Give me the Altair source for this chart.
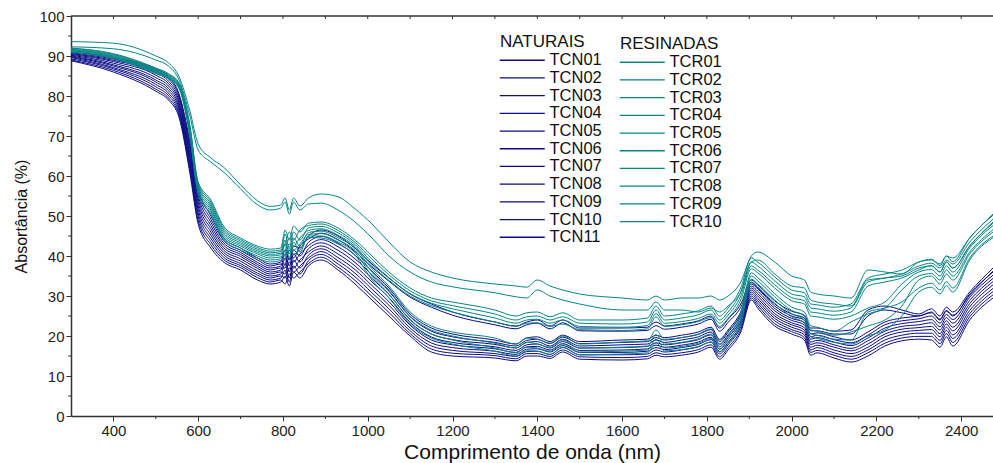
import altair as alt
import pandas as pd

# wavelength grid (nm)
wavelength = [300, 400, 500, 530, 555, 580, 600, 630, 660, 700,
              740, 770, 795, 805, 815, 825, 840, 860, 890, 930,
              970, 1010, 1050, 1100, 1150, 1200, 1300, 1350, 1375, 1400,
              1430, 1460, 1500, 1600, 1660, 1680, 1700, 1740, 1780, 1810,
              1830, 1850, 1880, 1905, 1920, 1960, 2000, 2030, 2045, 2060,
              2100, 2140, 2180, 2220, 2260, 2300, 2330, 2350, 2365, 2380,
              2420, 2475]

# NATURAIS
TCN01 = [90.2, 88.2, 84.6, 82.5, 78.2, 65.8, 53.4, 46.8, 42.1, 39.9, 37.4, 36.0, 36.5, 39.5, 36.0, 40.5, 38.5, 41.8, 43.3, 41.4, 38.4, 34.4, 30.4, 24.1,
         20.5, 19.1, 17.9, 17.0, 18.4, 18.6, 17.5, 19.2, 17.5, 17.8, 18.0, 19.0, 18.4, 19.0, 19.8, 21.0, 18.0, 20.3, 24.8, 32.0, 30.6, 26.3, 23.9, 22.8, 19.2, 19.6, 18.5, 17.6, 19.5, 22.0, 23.1, 23.6, 24.1, 22.3, 24.6, 23.2, 28.9, 34.4]
TCN02 = [90.8, 89.2, 86.3, 84.3, 80.0, 68.2, 56.1, 49.2, 43.9, 41.4, 39.0, 37.5, 38.0, 38.0, 41.5, 39.5, 42.5, 44.2, 45.7, 44.1, 41.1, 37.2, 33.7, 29.7,
         27.2, 25.2, 22.8, 21.8, 22.8, 23.2, 21.8, 23.3, 21.3, 21.2, 21.4, 22.6, 21.7, 22.2, 23.0, 24.2, 21.2, 23.4, 27.2, 33.4, 32.0, 28.0, 25.5, 24.5, 21.3, 21.3, 20.5, 20.5, 25.0, 26.5, 25.8, 25.0, 26.0, 24.2, 26.4, 25.2, 30.2, 36.2]
TCN03 = [89.6, 87.1, 82.9, 80.7, 76.4, 63.4, 50.7, 44.4, 40.3, 38.1, 35.7, 34.5, 35.0, 34.5, 37.0, 36.0, 37.5, 39.5, 41.1, 38.8, 35.7, 31.7, 27.7, 22.0,
         18.25, 17.1, 16.2, 15.4, 16.7, 16.8, 16.0, 17.6, 15.9, 15.9, 16.2, 17.1, 16.6, 17.1, 17.9, 19.1, 16.1, 18.4, 22.9, 30.5, 28.8, 24.4, 22.2, 20.9, 17.2, 17.7, 16.5, 15.6, 17.2, 19.8, 21.0, 21.4, 21.6, 19.8, 22.2, 20.3, 26.4, 31.9]
TCN04 = [91.0, 89.5, 86.8, 84.8, 80.5, 69.0, 57.0, 50.0, 44.5, 42.0, 39.5, 38.0, 38.5, 41.5, 39.0, 42.5, 42.0, 45.0, 46.5, 45.0, 42.0, 38.0, 34.5, 30.5,
         28.0, 26.0, 23.5, 22.5, 23.5, 24.0, 22.5, 24.0, 22.0, 22.0, 22.2, 23.5, 22.5, 23.0, 23.8, 25.0, 22.0, 24.2, 28.0, 34.0, 32.8, 28.8, 26.2, 25.2, 22.0, 22.0, 21.2, 21.5, 26.5, 27.5, 26.5, 25.5, 26.8, 25.0, 27.2, 26.0, 31.0, 37.0]
TCN05 = [89.0, 86.4, 81.7, 79.5, 75.2, 61.8, 48.9, 42.8, 39.1, 37.1, 34.6, 33.5, 34.0, 33.0, 35.5, 34.5, 36.0, 38.1, 39.7, 37.2, 33.9, 29.9, 25.9, 20.6,
         16.75, 15.7, 15.1, 14.3, 15.6, 15.6, 14.9, 16.5, 14.8, 14.6, 14.9, 15.8, 15.4, 15.8, 16.6, 17.8, 14.8, 17.1, 21.6, 29.5, 27.6, 23.1, 21.1, 19.6, 15.9, 16.4, 15.2, 14.2, 15.8, 18.2, 19.5, 19.9, 19.9, 18.1, 20.6, 18.4, 24.8, 30.3]
TCN06 = [90.6, 88.9, 85.8, 83.7, 79.4, 67.4, 55.2, 48.4, 43.3, 40.9, 38.4, 37.0, 37.5, 40.5, 37.5, 41.5, 40.0, 43.4, 44.9, 43.2, 40.2, 36.2, 32.0, 25.5,
         22.0, 20.5, 19.0, 18.0, 19.5, 19.8, 18.6, 20.2, 18.6, 19.0, 19.2, 20.2, 19.6, 20.2, 21.0, 22.2, 19.2, 21.5, 26.0, 33.0, 31.8, 27.5, 25.0, 24.0, 20.5, 20.8, 19.8, 19.0, 21.0, 23.5, 24.5, 25.0, 25.8, 24.0, 26.2, 25.0, 30.5, 36.0]
TCN07 = [90.0, 87.8, 84.0, 81.9, 77.6, 65.0, 52.5, 46.0, 41.5, 39.3, 36.9, 35.5, 36.0, 35.5, 38.5, 37.0, 39.0, 41.0, 42.5, 40.5, 37.5, 33.5, 29.6, 23.4,
         19.75, 18.4, 17.3, 16.4, 17.8, 18.0, 17.0, 18.6, 17.0, 17.1, 17.4, 18.3, 17.8, 18.3, 19.1, 20.3, 17.3, 19.6, 24.1, 31.5, 30.0, 25.6, 23.3, 22.1, 18.5, 18.9, 17.8, 16.9, 18.8, 21.2, 22.4, 22.8, 23.3, 21.5, 23.8, 22.2, 28.1, 33.6]
TCN08 = [88.8, 86.0, 81.2, 79.0, 74.6, 61.0, 48.0, 42.0, 38.5, 36.5, 34.0, 33.0, 33.5, 35.0, 32.5, 36.0, 34.5, 37.5, 39.0, 36.5, 33.0, 29.0, 25.0, 20.0,
         16.0, 15.0, 14.5, 13.8, 15.0, 15.0, 14.4, 16.0, 14.2, 14.0, 14.3, 15.2, 14.8, 15.2, 16.0, 17.2, 14.2, 16.5, 21.0, 29.0, 27.0, 22.5, 20.5, 19.0, 15.2, 15.8, 14.5, 13.5, 15.0, 17.5, 18.8, 19.2, 19.0, 17.2, 19.8, 17.5, 24.0, 29.5]
TCN09 = [90.4, 88.6, 85.2, 83.1, 78.8, 66.6, 54.3, 47.6, 42.7, 40.4, 37.9, 36.5, 37.0, 37.0, 39.5, 38.5, 40.5, 42.6, 44.1, 42.3, 39.3, 35.3, 31.2, 24.8,
         21.2, 19.8, 18.4, 17.5, 18.9, 19.2, 18.1, 19.7, 18.1, 18.4, 18.6, 19.6, 19.0, 19.6, 20.4, 21.6, 18.6, 20.9, 25.4, 32.5, 31.2, 26.9, 24.4, 23.4, 19.8, 20.2, 19.1, 18.3, 20.2, 22.8, 23.8, 24.3, 25.0, 23.2, 25.4, 24.1, 29.7, 35.2]
TCN10 = [89.3, 86.8, 82.3, 80.1, 75.8, 62.6, 49.8, 43.6, 39.7, 37.6, 35.2, 34.0, 34.5, 36.5, 33.5, 37.5, 35.5, 38.8, 40.4, 38.0, 34.8, 30.8, 26.8, 21.3,
         17.5, 16.4, 15.6, 14.9, 16.1, 16.2, 15.4, 17.1, 15.3, 15.3, 15.5, 16.5, 16.0, 16.5, 17.3, 18.5, 15.5, 17.8, 22.3, 30.0, 28.2, 23.8, 21.6, 20.3, 16.5, 17.1, 15.8, 14.9, 16.5, 19.0, 20.2, 20.7, 20.7, 18.9, 21.4, 19.4, 25.6, 31.1]
TCN11 = [89.8, 87.5, 83.5, 81.3, 77.0, 64.2, 51.6, 45.2, 40.9, 38.7, 36.3, 35.0, 35.5, 38.0, 34.5, 39.0, 37.0, 40.2, 41.8, 39.6, 36.6, 32.6, 28.6, 22.7,
         19.0, 17.8, 16.8, 15.9, 17.3, 17.4, 16.5, 18.1, 16.4, 16.5, 16.8, 17.7, 17.2, 17.7, 18.5, 19.7, 16.7, 19.0, 23.5, 31.0, 29.4, 25.0, 22.8, 21.5, 17.9, 18.3, 17.2, 16.3, 18.0, 20.5, 21.7, 22.1, 22.4, 20.6, 23.0, 21.3, 27.3, 32.8]

# RESINADAS
TCR01 = [91.7, 90.2, 86.6, 85.2, 82.8, 72.2, 57.7, 53.0, 46.5, 43.7, 41.7, 40.8, 41.1, 45.5, 42.0, 46.0, 44.0, 47.0, 47.4, 45.8, 42.9, 38.4, 34.6, 30.6,
         28.2, 26.8, 24.5, 23.2, 24.0, 24.2, 23.2, 24.0, 22.4, 22.2, 22.6, 25.6, 23.2, 23.6, 24.4, 25.5, 23.2, 25.2, 30.0, 37.5, 36.5, 32.8, 29.6, 28.8, 26.0, 25.8, 25.2, 26.0, 32.5, 33.5, 34.5, 36.5, 37.6, 36.0, 38.5, 37.0, 42.5, 48.2]
TCR02 = [92.0, 90.6, 87.0, 85.6, 83.2, 73.0, 58.5, 54.0, 47.5, 44.5, 42.5, 41.7, 42.0, 46.5, 44.0, 47.5, 46.0, 48.2, 48.5, 47.0, 44.0, 40.0, 36.0, 32.0,
         29.5, 28.5, 26.5, 25.0, 25.8, 26.0, 24.8, 25.8, 24.0, 24.0, 24.5, 27.5, 25.0, 25.5, 26.3, 27.5, 25.0, 27.0, 32.0, 39.5, 38.5, 34.8, 31.5, 30.8, 28.0, 27.8, 27.2, 28.0, 34.5, 35.5, 36.5, 38.5, 39.2, 37.6, 40.0, 38.6, 44.5, 50.2]
TCR03 = [91.3, 89.7, 86.0, 84.7, 82.2, 71.0, 56.4, 51.5, 45.0, 42.5, 40.5, 39.5, 39.8, 40.5, 43.0, 41.5, 43.0, 45.4, 45.6, 44.0, 41.4, 36.0, 31.5, 25.0,
         21.5, 20.0, 18.2, 17.0, 18.4, 18.0, 17.2, 19.0, 17.0, 17.2, 17.5, 20.3, 18.0, 18.4, 19.3, 20.5, 17.8, 20.0, 25.0, 35.0, 33.8, 29.8, 26.4, 25.0, 21.6, 21.2, 20.2, 21.0, 22.5, 24.0, 27.5, 34.0, 35.0, 33.0, 35.5, 34.0, 40.5, 46.0]
TCR04 = [93.6, 93.2, 90.0, 88.3, 84.8, 76.5, 68.0, 64.5, 62.2, 57.8, 53.8, 52.4, 52.8, 54.5, 51.5, 54.5, 52.5, 54.5, 55.5, 54.8, 51.8, 48.0, 43.5, 38.5,
         36.0, 34.5, 33.0, 32.5, 32.2, 34.0, 32.5, 31.5, 30.5, 29.5, 29.0, 30.0, 29.0, 29.5, 29.5, 30.0, 29.0, 30.0, 33.5, 40.0, 41.0, 38.5, 35.0, 34.0, 31.0, 30.5, 30.0, 29.5, 36.5, 36.0, 35.5, 38.5, 39.0, 38.0, 40.0, 39.5, 44.5, 50.5]
TCR05 = [91.6, 90.0, 86.4, 85.0, 82.6, 71.8, 57.3, 52.5, 46.0, 43.3, 41.3, 40.4, 40.7, 41.5, 44.5, 42.5, 44.5, 46.4, 46.8, 45.2, 42.4, 37.6, 33.9, 30.0,
         27.6, 26.0, 23.5, 22.4, 23.2, 23.3, 22.4, 23.0, 21.6, 21.4, 21.8, 24.8, 22.4, 22.8, 23.6, 24.6, 22.4, 24.4, 29.0, 36.8, 35.8, 32.0, 28.8, 28.0, 25.0, 24.8, 24.2, 25.0, 27.0, 28.5, 33.0, 36.0, 36.6, 35.0, 37.5, 36.0, 42.0, 47.6]
TCR06 = [91.1, 89.5, 85.8, 84.5, 82.0, 70.6, 56.0, 51.0, 44.5, 42.0, 40.0, 39.0, 39.3, 43.0, 39.5, 43.5, 41.0, 45.0, 45.0, 43.5, 40.8, 35.0, 30.5, 24.0,
         20.5, 19.0, 17.0, 15.8, 17.2, 17.0, 16.2, 18.0, 16.0, 16.2, 16.5, 19.2, 17.0, 17.4, 18.2, 19.4, 16.8, 19.0, 24.0, 34.2, 33.0, 29.0, 25.6, 24.0, 20.6, 20.2, 19.2, 19.0, 26.0, 27.0, 28.5, 32.0, 33.2, 31.5, 33.6, 32.0, 39.5, 45.0]
TCR07 = [92.3, 91.8, 89.0, 87.5, 84.0, 75.2, 66.5, 63.5, 61.0, 56.8, 52.8, 51.5, 52.0, 53.5, 50.5, 53.5, 51.5, 53.0, 53.2, 51.5, 48.5, 44.5, 40.0, 36.0,
         33.5, 32.3, 30.8, 29.8, 29.5, 31.5, 30.0, 29.0, 28.0, 26.5, 26.5, 28.5, 26.5, 26.5, 26.0, 27.0, 26.0, 27.5, 31.0, 38.5, 39.0, 35.5, 32.5, 32.0, 29.0, 28.5, 28.0, 27.5, 34.0, 34.5, 35.0, 37.0, 37.5, 36.0, 38.5, 37.0, 42.5, 48.5]
TCR08 = [91.9, 90.4, 86.8, 85.4, 83.0, 72.6, 58.1, 53.5, 47.0, 44.1, 42.1, 41.2, 41.5, 43.0, 46.0, 44.0, 46.5, 47.6, 48.0, 46.4, 43.4, 39.2, 35.3, 31.3,
         28.8, 27.6, 25.5, 24.0, 24.8, 25.0, 24.0, 24.8, 23.2, 23.0, 23.5, 26.5, 24.0, 24.5, 25.3, 26.5, 24.0, 26.0, 31.0, 38.5, 37.5, 33.8, 30.5, 29.8, 27.0, 26.8, 26.2, 27.0, 33.5, 34.5, 35.5, 37.5, 38.2, 37.0, 39.0, 38.0, 43.5, 49.2]
TCR09 = [90.9, 89.3, 85.6, 84.3, 81.8, 70.2, 55.5, 50.5, 44.0, 41.5, 39.5, 38.5, 38.9, 39.5, 42.0, 40.5, 41.5, 44.6, 44.5, 43.0, 40.2, 34.0, 29.5, 23.0,
         19.5, 18.0, 16.2, 15.0, 16.3, 16.2, 15.4, 17.2, 15.3, 15.5, 15.8, 18.3, 16.3, 16.6, 17.4, 18.5, 16.0, 18.2, 23.0, 33.5, 32.3, 28.2, 24.8, 23.2, 19.8, 19.4, 18.4, 18.0, 20.0, 21.5, 25.0, 31.0, 32.2, 30.5, 32.6, 31.0, 39.0, 44.6]
TCR10 = [91.4, 89.8, 86.2, 84.8, 82.4, 71.4, 56.8, 52.0, 45.5, 42.9, 40.9, 40.0, 40.3, 44.0, 40.5, 44.5, 42.5, 45.9, 46.2, 44.6, 41.9, 36.8, 32.5, 26.0,
         22.5, 21.0, 19.5, 18.0, 19.5, 19.2, 18.2, 20.0, 18.0, 18.5, 18.8, 21.5, 19.2, 19.6, 20.5, 21.8, 19.0, 21.2, 26.0, 35.8, 34.6, 30.6, 27.2, 26.0, 22.6, 22.2, 21.2, 23.5, 25.5, 27.0, 31.5, 35.0, 35.6, 34.0, 36.5, 35.0, 41.0, 46.6]

naturais = ["TCN01", "TCN02", "TCN03", "TCN04", "TCN05", "TCN06",
            "TCN07", "TCN08", "TCN09", "TCN10", "TCN11"]
resinadas = ["TCR01", "TCR02", "TCR03", "TCR04", "TCR05",
             "TCR06", "TCR07", "TCR08", "TCR09", "TCR10"]
naturais_values = [TCN01, TCN02, TCN03, TCN04, TCN05, TCN06,
                   TCN07, TCN08, TCN09, TCN10, TCN11]
resinadas_values = [TCR01, TCR02, TCR03, TCR04, TCR05,
                    TCR06, TCR07, TCR08, TCR09, TCR10]

x_ticks = [400, 600, 800, 1000, 1200, 1400, 1600, 1800, 2000, 2200, 2400]
x_minor = [500, 700, 900, 1100, 1300, 1500, 1700, 1900, 2100, 2300]
x_top = [400, 500, 600, 700, 800, 900, 1000, 1100, 1200, 1300, 1400, 1500,
         1600, 1700, 1800, 1900, 2000, 2100, 2200, 2300, 2400]
y_ticks = [0, 10, 20, 30, 40, 50, 60, 70, 80, 90, 100]
y_minor = [5, 15, 25, 35, 45, 55, 65, 75, 85, 95]


def long_table(names, values, col):
    rows = []
    for name, vals in zip(names, values):
        if len(vals) != len(wavelength):
            raise ValueError(f"{name}: {len(vals)} values, expected {len(wavelength)}")
        for w, v in zip(wavelength, vals):
            rows.append({"nm": w, "val": v, col: name})
    return pd.DataFrame(rows)


df_n = long_table(naturais, naturais_values, "NATURAIS")
df_r = long_table(resinadas, resinadas_values, "RESINADAS")

FONT = "Liberation Sans"
NAVY = "#0b0b85"
TEAL = "#078585"
W, H = 922, 400

x_enc = alt.X(
    "nm:Q",
    scale=alt.Scale(domain=[300, 2475], nice=False, zero=False),
    axis=alt.Axis(values=x_ticks, format="d", title="Comprimento de onda (nm)",
                  labelFont=FONT, labelFontSize=15, labelColor="#222",
                  labelPadding=2, labelFlush=False, tickSize=5, tickColor="#333",
                  domainColor="#333", domainWidth=1.5, grid=False,
                  titleFont=FONT, titleFontSize=21, titleFontWeight="normal",
                  titleColor="#111", titlePadding=3),
)
y_enc = alt.Y(
    "val:Q",
    scale=alt.Scale(domain=[0, 100], nice=False),
    axis=alt.Axis(values=y_ticks, title="Absortância (%)",
                  labelFont=FONT, labelFontSize=15, labelColor="#222",
                  labelPadding=2, tickSize=5, tickColor="#333",
                  domainColor="#333", domainWidth=1.5, grid=False,
                  titleFont=FONT, titleFontSize=16, titleFontWeight="normal",
                  titleColor="#111", titlePadding=9),
)

legend_common = dict(
    orient="none", padding=0, titleFont=FONT, titleFontSize=17,
    titleFontWeight="normal", titleColor="#111", titlePadding=1,
    labelFont=FONT, labelFontSize=16.5, labelColor="#111",
    symbolType="M-4.5,0L4.5,0", symbolSize=100, symbolStrokeWidth=1.3,
    symbolOffset=14, labelOffset=19, rowPadding=0.7,
)

lines_n = alt.Chart(df_n).mark_line(strokeWidth=1, clip=True, interpolate="monotone").encode(
    x=x_enc, y=y_enc,
    color=alt.Color("NATURAIS:N",
                    scale=alt.Scale(domain=naturais, range=[NAVY] * len(naturais)),
                    legend=alt.Legend(title="NATURAIS", legendX=429, legendY=18,
                                      **legend_common)),
)
lines_r = alt.Chart(df_r).mark_line(strokeWidth=1, clip=True, interpolate="monotone").encode(
    x=x_enc, y=y_enc,
    stroke=alt.Stroke("RESINADAS:N",
                      scale=alt.Scale(domain=resinadas, range=[TEAL] * len(resinadas)),
                      legend=alt.Legend(title="RESINADAS", legendX=549, legendY=20,
                                        **legend_common)),
)

minor_x_ticks = alt.Chart(pd.DataFrame({"nm": x_minor})).mark_rule(
    color="#333", strokeWidth=1).encode(x=x_enc, y=alt.value(H), y2=alt.value(H + 3))
top_ticks = alt.Chart(pd.DataFrame({"nm": x_top})).mark_rule(
    color="#333", strokeWidth=1).encode(x=x_enc, y=alt.value(0), y2=alt.value(3))
minor_y_ticks = alt.Chart(pd.DataFrame({"val": y_minor})).mark_rule(
    color="#333", strokeWidth=1).encode(y=y_enc, x=alt.value(-3), x2=alt.value(0))
top_border = alt.Chart(pd.DataFrame({"val": [100]})).mark_rule(
    color="#333", strokeWidth=1.5).encode(x=alt.value(0), x2=alt.value(W), y=alt.value(0))

chart = alt.layer(
    lines_n, lines_r, minor_x_ticks, top_ticks, minor_y_ticks, top_border
).resolve_scale(color="independent").properties(
    width=W, height=H,
    autosize=alt.AutoSizeParams(type="none"),
    padding={"left": 71, "top": 16, "right": 0, "bottom": 47},
    background="white",
).configure_view(strokeWidth=0)

chart.save("out.html", embed_options={"renderer": "svg", "actions": False})
